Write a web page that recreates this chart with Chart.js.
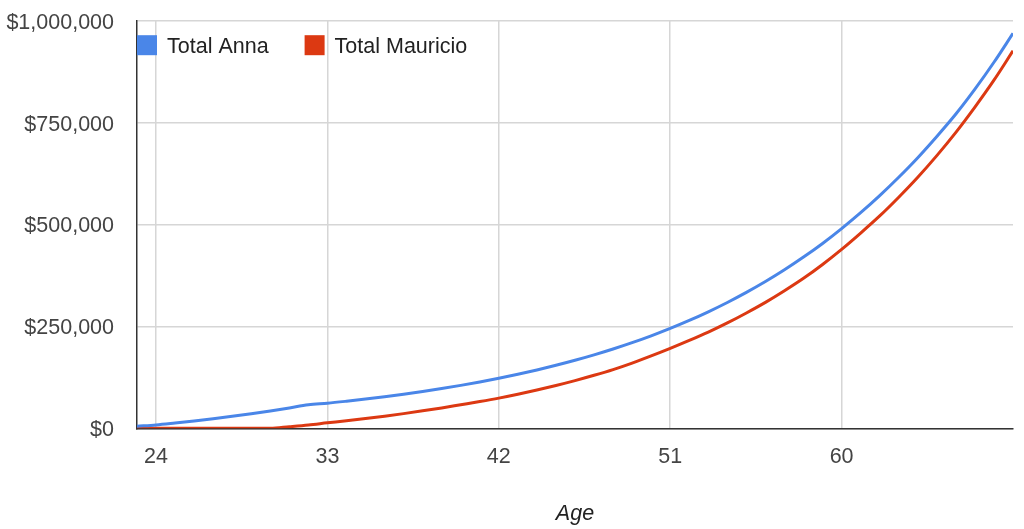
<!DOCTYPE html>
<html>
<head>
<meta charset="utf-8">
<script src="https://cdn.jsdelivr.net/npm/chart.js@4/dist/chart.umd.min.js"></script>
<style>
  html, body { margin: 0; padding: 0; background: #ffffff; }
  #wrap { width: 1024px; height: 529px; }
</style>
</head>
<body>
<div id="wrap"><canvas id="c" width="1024" height="529"></canvas></div>
<script>
// Age (x) categories
const ages = [23,24,25,26,27,28,29,30,31,32,33,34,35,36,37,38,39,40,41,42,43,44,45,46,
  47,48,49,50,51,52,53,54,55,56,57,58,59,60,61,62,63,64,65,66,67,68,69];

// Series values (USD)
const totalAnna = [5000, 8300, 13000, 18000, 23500, 29300, 35700, 42600, 50000, 57500,
  61500, 66400, 71700, 77400, 83600, 90300, 97500, 105300, 113700, 122700,
  132500, 143100, 154500, 166800, 180100, 194500, 210000, 226800, 245000, 264600,
  285800, 308700, 333400, 360000, 388800, 420000, 453500, 490000, 529000, 571000,
  616000, 664000, 716000, 771000, 832000, 898000, 969000];

const totalMauricio = [0, 0, 0, 0, 0, 0, 0, 0, 4000, 8300,
  13500, 18500, 24000, 29800, 36000, 42800, 50000, 57800, 65600, 74000,
  83500, 93800, 105000, 117000, 130000, 144000, 160000, 177500, 196000, 215500,
  236000, 258500, 283000, 309000, 337500, 368000, 402000, 439000, 479000, 521000,
  567000, 616000, 669000, 726000, 788000, 854000, 926000];

// Tick labels
const xTicks = [24, 33, 42, 51, 60];
const yTicks = [0, 250000, 500000, 750000, 1000000];

const seriesNames = ['Total Anna', 'Total Mauricio'];
const seriesColors = ['#4a86e8', '#dc3912'];

const FONT = "Arial, 'Liberation Sans', Helvetica, sans-serif";
const FS = 21.5;

// Legend drawn inside the plot area (top-left), from the datasets
const legendInside = {
  id: 'legendInside',
  afterDraw(chart) {
    const ctx = chart.ctx;
    const ca = chart.chartArea;
    const box = 20, gapText = 10, gapItem = 36;
    let x = ca.left;
    const yTop = ca.top + 14.5;
    ctx.save();
    ctx.font = FS + "px " + FONT;
    ctx.textBaseline = 'middle';
    ctx.textAlign = 'left';
    chart.data.datasets.forEach(ds => {
      ctx.fillStyle = ds.borderColor;
      ctx.fillRect(x, yTop, box, box);
      ctx.fillStyle = '#222222';
      ctx.fillText(ds.label, x + box + gapText, yTop + box / 2 + 1.5);
      x += box + gapText + ctx.measureText(ds.label).width + gapItem;
    });
    ctx.restore();
  }
};

const toPts = (vals) => ages.map((a, i) => ({ x: a, y: vals[i] }));

new Chart(document.getElementById('c'), {
  type: 'line',
  data: {
    datasets: [
      {
        label: seriesNames[0],
        data: toPts(totalAnna),
        borderColor: seriesColors[0],
        backgroundColor: seriesColors[0],
        borderWidth: 3,
        pointRadius: 0,
        cubicInterpolationMode: 'monotone',
        fill: false
      },
      {
        label: seriesNames[1],
        data: toPts(totalMauricio),
        borderColor: seriesColors[1],
        backgroundColor: seriesColors[1],
        borderWidth: 3,
        pointRadius: 0,
        cubicInterpolationMode: 'monotone',
        fill: false
      }
    ]
  },
  options: {
    responsive: false,
    animation: false,
    devicePixelRatio: 1,
    layout: { padding: { top: 20.7, right: 11, bottom: 0, left: 0 } },
    plugins: {
      tooltip: { enabled: false },
      legend: { display: false }
    },
    scales: {
      x: {
        type: 'linear',
        min: 23,
        max: 69,
        afterBuildTicks(scale) {
          scale.ticks = xTicks.map(v => ({ value: v }));
        },
        afterFit(scale) {
          scale.height = 100.7;
          scale.paddingLeft = 0; scale.paddingRight = 0;
        },
        ticks: {
          color: '#444444',
          font: { family: FONT, size: FS },
          padding: 15.5,
          maxRotation: 0,
          callback: (v) => String(v)
        },
        grid: { color: '#d6d6d6', lineWidth: 1.5, drawTicks: false },
        border: { color: '#333333', width: 1.5 },
        title: {
          display: true,
          text: 'Age',
          color: '#222222',
          font: { family: FONT, size: FS, style: 'italic' },
          padding: { top: 0, bottom: 2 }
        }
      },
      y: {
        min: 0,
        max: 1000000,
        afterBuildTicks(scale) {
          scale.ticks = yTicks.map(v => ({ value: v }));
        },
        afterFit(scale) {
          scale.width = 137;
          scale.paddingTop = 0; scale.paddingBottom = 0;
        },
        ticks: {
          color: '#444444',
          font: { family: FONT, size: FS },
          padding: 23,
          labelOffset: 2,
          callback: (v) => '$' + Number(v).toLocaleString('en-US')
        },
        grid: { color: '#d6d6d6', lineWidth: 1.5, drawTicks: false },
        border: { color: '#333333', width: 1.5 }
      }
    }
  },
  plugins: [legendInside]
});
</script>
</body>
</html>
